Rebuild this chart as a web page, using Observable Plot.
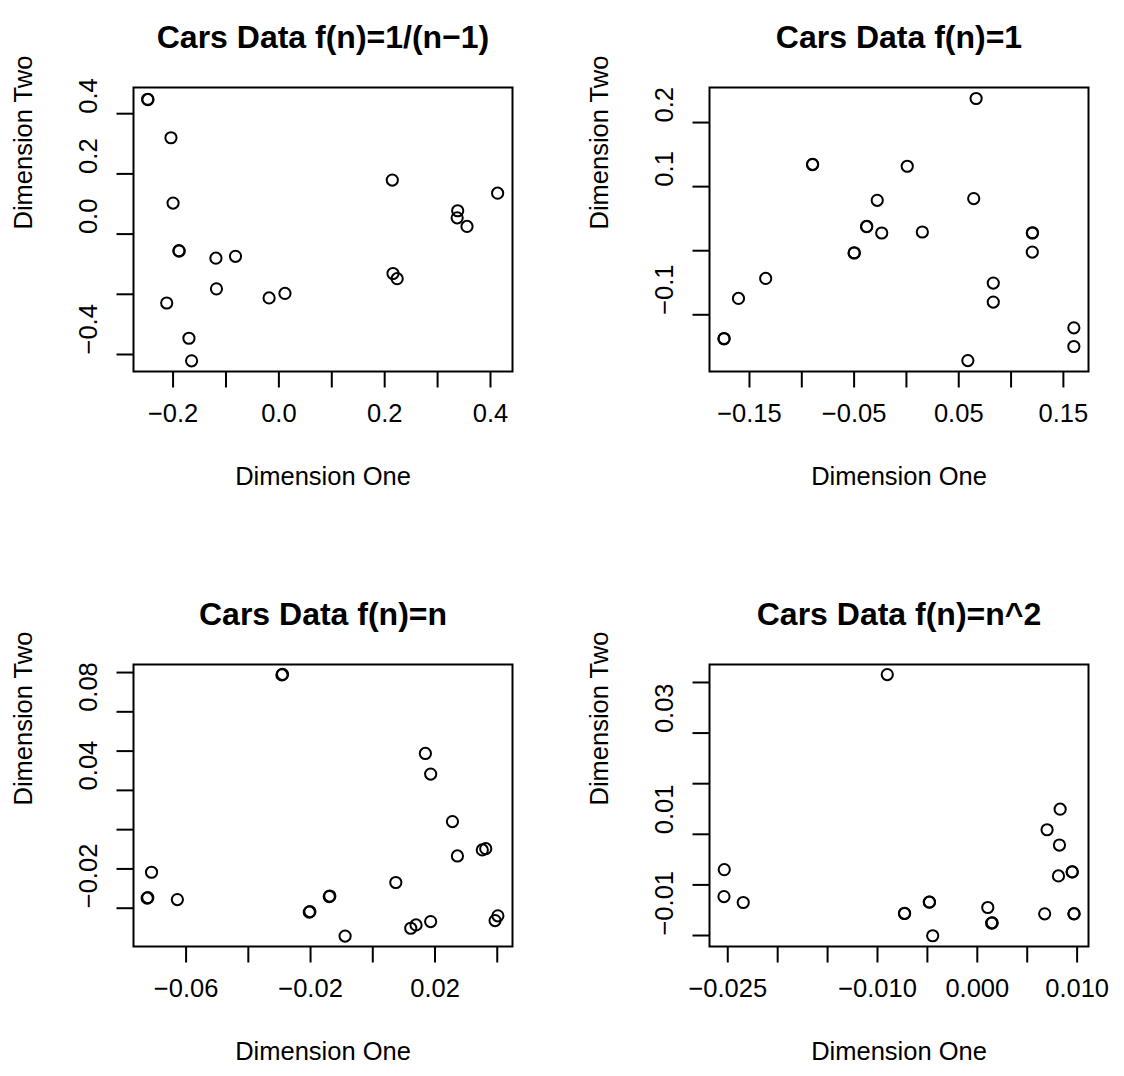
<!DOCTYPE html>
<html>
<head>
<meta charset="utf-8">
<script src="https://cdn.jsdelivr.net/npm/d3@7"></script>
<script src="https://cdn.jsdelivr.net/npm/@observablehq/plot@0.6"></script>
<style>
  html, body { margin: 0; padding: 0; background: #fff; }
  #grid { position: relative; width: 1124px; height: 1076px; overflow: hidden; }
  #grid > div { position: absolute; }
</style>
</head>
<body>
<div id="grid"></div>
<script>
// ---- Panel 1: f(n) = 1/(n-1) ----
const p1Title = "Cars Data f(n)=1/(n\u22121)";
const p1x = [-0.248, -0.2475, -0.204, -0.200, -0.189, -0.1885, -0.119, -0.082, -0.118, -0.212, -0.170, -0.165, -0.0185, 0.0115, 0.2144, 0.2157, 0.2236, 0.338, 0.337, 0.3556, 0.4135];
const p1y = [0.448, 0.4465, 0.320, 0.103, -0.055, -0.0565, -0.080, -0.074, -0.182, -0.229, -0.346, -0.421, -0.212, -0.197, 0.1795, -0.131, -0.148, 0.0776, 0.054, 0.0255, 0.136];
const p1xDomain = [-0.2748, 0.4416];
const p1yDomain = [-0.4565, 0.487];
const p1xTicks = [-0.2, -0.1, 0, 0.1, 0.2, 0.3, 0.4];
const p1xLabelAt = [-0.2, 0, 0.2, 0.4];
const p1xLabels = ["\u22120.2", "0.0", "0.2", "0.4"];
const p1yTicks = [-0.4, -0.2, 0, 0.2, 0.4];
const p1yLabelAt = [-0.4, 0, 0.2, 0.4];
const p1yLabels = ["\u22120.4", "0.0", "0.2", "0.4"];

// ---- Panel 2: f(n) = 1 ----
const p2Title = "Cars Data f(n)=1";
const p2x = [-0.1744, -0.1742, -0.1605, -0.1345, -0.0898, -0.0896, -0.05, -0.0498, -0.0381, -0.0379, -0.0279, -0.0236, 0.0008, 0.0152, 0.0666, 0.0643, 0.0587, 0.083, 0.083, 0.1203, 0.1205, 0.1203, 0.160, 0.160];
const p2y = [-0.1375, -0.1370, -0.0745, -0.0432, 0.1344, 0.1348, -0.0036, -0.0032, 0.0375, 0.0379, 0.0786, 0.0276, 0.1318, 0.0292, 0.2375, 0.0813, -0.1714, -0.0505, -0.0802, 0.0276, 0.0280, -0.0021, -0.1203, -0.1495];
const p2xDomain = [-0.1882, 0.174];
const p2yDomain = [-0.1885, 0.2547];
const p2xTicks = [-0.15, -0.10, -0.05, 0, 0.05, 0.10, 0.15];
const p2xLabelAt = [-0.15, -0.05, 0.05, 0.15];
const p2xLabels = ["\u22120.15", "\u22120.05", "0.05", "0.15"];
const p2yTicks = [-0.1, 0, 0.1, 0.2];
const p2yLabelAt = [-0.1, 0.1, 0.2];
const p2yLabels = ["\u22120.1", "0.1", "0.2"];

// ---- Panel 3: f(n) = n ----
const p3Title = "Cars Data f(n)=n";
const p3x = [-0.0725, -0.0723, -0.0711, -0.0628, -0.0292, -0.0290, -0.0204, -0.0202, -0.0140, -0.0138, -0.0089, 0.0074, 0.0122, 0.0139, 0.0186, 0.0169, 0.0186, 0.0256, 0.0272, 0.0352, 0.0363, 0.0393, 0.0402];
const p3y = [-0.0149, -0.0146, -0.0017, -0.0156, 0.0988, 0.0991, -0.0220, -0.0217, -0.0141, -0.0138, -0.0342, -0.0069, -0.0302, -0.0285, -0.0268, 0.0588, 0.0483, 0.0241, 0.0066, 0.0097, 0.0103, -0.0263, -0.0239];
const p3xDomain = [-0.0769, 0.0449];
const p3yDomain = [-0.0395, 0.1041];
const p3xTicks = [-0.06, -0.04, -0.02, 0, 0.02, 0.04];
const p3xLabelAt = [-0.06, -0.02, 0.02];
const p3xLabels = ["\u22120.06", "\u22120.02", "0.02"];
const p3yTicks = [-0.02, 0, 0.02, 0.04, 0.06, 0.08, 0.10];
const p3yLabelAt = [-0.02, 0.04, 0.08];
const p3yLabels = ["\u22120.02", "0.04", "0.08"];

// ---- Panel 4: f(n) = n^2 ----
const p4Title = "Cars Data f(n)=n^2";
const p4x = [-0.02535, -0.02538, -0.02345, -0.00902, -0.0073, -0.00728, -0.00481, -0.00479, -0.00447, 0.00105, 0.00143, 0.00150, 0.00675, 0.00699, 0.0083, 0.00823, 0.00813, 0.0095, 0.00952, 0.00968, 0.00970];
const p4y = [0.00302, -0.0023, -0.00348, 0.04156, -0.00565, -0.00562, -0.00341, -0.00338, -0.01005, -0.00446, -0.00755, -0.00750, -0.00571, 0.0109, 0.01497, 0.00788, 0.00177, 0.00256, 0.00259, -0.00571, -0.00568];
const p4xDomain = [-0.02683, 0.01114];
const p4yDomain = [-0.01217, 0.04355];
const p4xTicks = [-0.025, -0.020, -0.015, -0.010, -0.005, 0, 0.005, 0.010];
const p4xLabelAt = [-0.025, -0.010, 0, 0.010];
const p4xLabels = ["\u22120.025", "\u22120.010", "0.000", "0.010"];
const p4yTicks = [-0.01, 0, 0.01, 0.02, 0.03, 0.04];
const p4yLabelAt = [-0.01, 0.01, 0.03];
const p4yLabels = ["\u22120.01", "0.01", "0.03"];

const xTitle = "Dimension One";
const yTitle = "Dimension Two";

const FONT = "'Liberation Sans', Arial, Helvetica, sans-serif";
const LABEL_SIZE = 25.5;

function panel(p) {
  const pts = p.x.map((x, i) => ({x, y: p.y[i]}));
  const xl = p.xLabelAt.map((v, i) => ({v, t: p.xLabels[i]}));
  const yl = p.yLabelAt.map((v, i) => ({v, t: p.yLabels[i]}));
  return Plot.plot({
    width: p.width,
    height: p.height,
    marginTop: 87,
    marginLeft: p.marginLeft,
    marginRight: p.marginRight,
    marginBottom: p.marginBottom,
    x: {domain: p.xDomain, axis: null},
    y: {domain: p.yDomain, axis: null},
    style: {fontFamily: FONT, background: "white", overflow: "visible", color: "black"},
    marks: [
      // tick marks only; the labels are drawn separately below
      Plot.axisX(p.xTicks, {anchor: "bottom", tickSize: 16.5, tickFormat: () => "", label: null, strokeWidth: 2}),
      Plot.axisY(p.yTicks, {anchor: "left", tickSize: 16.5, tickFormat: () => "", label: null, strokeWidth: 2}),
      Plot.text(xl, {x: "v", text: "t", frameAnchor: "bottom", dy: 50, fontSize: LABEL_SIZE, fill: "black"}),
      Plot.text(yl, {y: "v", text: "t", frameAnchor: "left", dx: -45, rotate: -90, fontSize: LABEL_SIZE, fill: "black"}),
      Plot.text([xTitle], {frameAnchor: "bottom", dy: 113.5, fontSize: LABEL_SIZE, fill: "black"}),
      Plot.text([yTitle], {frameAnchor: "left", dx: -110, rotate: -90, fontSize: LABEL_SIZE, fill: "black"}),
      Plot.text([p.title], {frameAnchor: "top", dy: -62, fontSize: 32, fontWeight: "bold", fill: "black"}),
      Plot.dot(pts, {x: "x", y: "y", r: 5.6, stroke: "black", strokeWidth: 2, fill: "none"}),
      Plot.frame({stroke: "black", strokeWidth: 2})
    ]
  });
}

const col = [
  {left: 0, width: 562, marginLeft: 133, marginRight: 50},
  {left: 575, width: 549, marginLeft: 134, marginRight: 36}
];
const row = [
  {top: 0, height: 577, marginBottom: 206},
  {top: 577, height: 499, marginBottom: 130}
];

const panels = [
  {title: p1Title, x: p1x, y: p1y, xDomain: p1xDomain, yDomain: p1yDomain, xTicks: p1xTicks, xLabelAt: p1xLabelAt, xLabels: p1xLabels, yTicks: p1yTicks, yLabelAt: p1yLabelAt, yLabels: p1yLabels, c: 0, r: 0},
  {title: p2Title, x: p2x, y: p2y, xDomain: p2xDomain, yDomain: p2yDomain, xTicks: p2xTicks, xLabelAt: p2xLabelAt, xLabels: p2xLabels, yTicks: p2yTicks, yLabelAt: p2yLabelAt, yLabels: p2yLabels, c: 1, r: 0},
  {title: p3Title, x: p3x, y: p3y, xDomain: p3xDomain, yDomain: p3yDomain, xTicks: p3xTicks, xLabelAt: p3xLabelAt, xLabels: p3xLabels, yTicks: p3yTicks, yLabelAt: p3yLabelAt, yLabels: p3yLabels, c: 0, r: 1},
  {title: p4Title, x: p4x, y: p4y, xDomain: p4xDomain, yDomain: p4yDomain, xTicks: p4xTicks, xLabelAt: p4xLabelAt, xLabels: p4xLabels, yTicks: p4yTicks, yLabelAt: p4yLabelAt, yLabels: p4yLabels, c: 1, r: 1}
];

const grid = document.getElementById("grid");
for (const p of panels) {
  const c = col[p.c], r = row[p.r];
  const holder = document.createElement("div");
  holder.style.left = c.left + "px";
  holder.style.top = r.top + "px";
  holder.appendChild(panel({...p, width: c.width, height: r.height, marginLeft: c.marginLeft, marginRight: c.marginRight, marginBottom: r.marginBottom}));
  grid.appendChild(holder);
}
</script>
</body>
</html>
